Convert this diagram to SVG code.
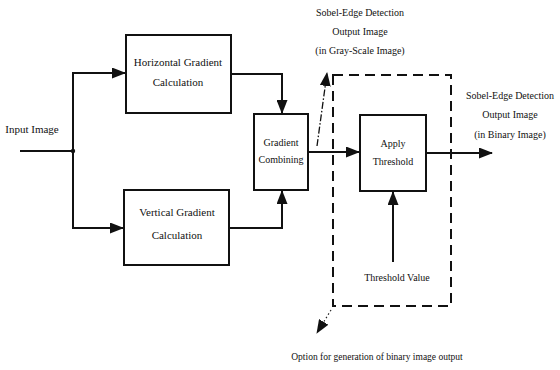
<svg xmlns="http://www.w3.org/2000/svg" width="560" height="370" viewBox="0 0 560 370">
  <style>
    .box { fill: #fff; stroke: #111; stroke-width: 2; }
    .wire { fill: none; stroke: #111; stroke-width: 2; }
    .dash { fill: none; stroke: #111; stroke-width: 2; stroke-dasharray: 10 6; }
    .thin { fill: none; stroke: #111; stroke-width: 1.3; stroke-dasharray: 7 2 1.5 2; }
    .dots { fill: none; stroke: #222; stroke-width: 1.2; stroke-dasharray: 1.5 2.5; }
    text { font-family: "Liberation Serif", "Times New Roman", serif; font-size: 11px; fill: #111; text-anchor: middle; }
    .sm { font-size: 10px; }
    .xs { font-size: 9.5px; }
  </style>
  <defs>
    <marker id="arrow" viewBox="0 0 14 11" refX="13" refY="5.5" markerWidth="14" markerHeight="11" markerUnits="userSpaceOnUse" orient="auto">
      <path d="M0,0 L14,5.5 L0,11 Z" fill="#111"/>
    </marker>
  </defs>

  <rect width="560" height="370" fill="#fff"/>

  <!-- optional binary-output region -->
  <rect class="dash" x="333" y="75" width="118" height="231"/>

  <g id="connectors">
    <!-- input split -->
    <path class="wire" d="M20,151 H73"/>
    <circle cx="73" cy="151" r="2.2" fill="#111"/>
    <path class="wire" d="M73,151 V73 H125" marker-end="url(#arrow)"/>
    <path class="wire" d="M73,151 V228 H123" marker-end="url(#arrow)"/>
    <!-- gradients into combiner -->
    <path class="wire" d="M231,74 H282 V113" marker-end="url(#arrow)"/>
    <path class="wire" d="M229,228 H282 V191" marker-end="url(#arrow)"/>
    <!-- combiner to threshold -->
    <path class="wire" d="M308,152 H359" marker-end="url(#arrow)"/>
    <!-- gray-scale output tap -->
    <path class="thin" d="M317,146 L327,73" marker-end="url(#arrow)"/>
    <!-- threshold to binary output -->
    <path class="wire" d="M427,153 H492" marker-end="url(#arrow)"/>
    <!-- threshold value -->
    <path class="wire" d="M393,262 V192" marker-end="url(#arrow)"/>
    <!-- option pointer -->
    <path class="dots" d="M331,310 L317,333" marker-end="url(#arrow)"/>
  </g>

  <g id="input-label">
    <text x="32" y="133">Input Image</text>
  </g>

  <g id="horizontal-gradient">
    <rect class="box" x="126" y="35" width="105" height="78"/>
    <text x="178" y="66">Horizontal Gradient</text>
    <text x="178" y="86">Calculation</text>
  </g>

  <g id="vertical-gradient">
    <rect class="box" x="124" y="190" width="105" height="75"/>
    <text x="177" y="216">Vertical Gradient</text>
    <text x="177" y="239">Calculation</text>
  </g>

  <g id="gradient-combining">
    <rect class="box" x="254" y="114" width="54" height="76"/>
    <text class="sm" x="281" y="146">Gradient</text>
    <text class="sm" x="281" y="163">Combining</text>
  </g>

  <g id="apply-threshold">
    <rect class="box" x="360" y="115" width="66" height="76"/>
    <text class="sm" x="393" y="147">Apply</text>
    <text class="sm" x="393" y="165">Threshold</text>
  </g>

  <g id="gray-output-label">
    <text class="sm" x="360" y="16">Sobel-Edge Detection</text>
    <text class="sm" x="360" y="35">Output Image</text>
    <text class="sm" x="360" y="54">(in Gray-Scale Image)</text>
  </g>

  <g id="binary-output-label">
    <text class="sm" x="510" y="99">Sobel-Edge Detection</text>
    <text class="sm" x="510" y="118">Output Image</text>
    <text class="sm" x="510" y="138">(in Binary Image)</text>
  </g>

  <g id="threshold-value">
    <text class="sm" x="397" y="281">Threshold Value</text>
  </g>

  <g id="option-note">
    <text class="xs" x="377" y="360">Option for generation of binary image output</text>
  </g>
</svg>
